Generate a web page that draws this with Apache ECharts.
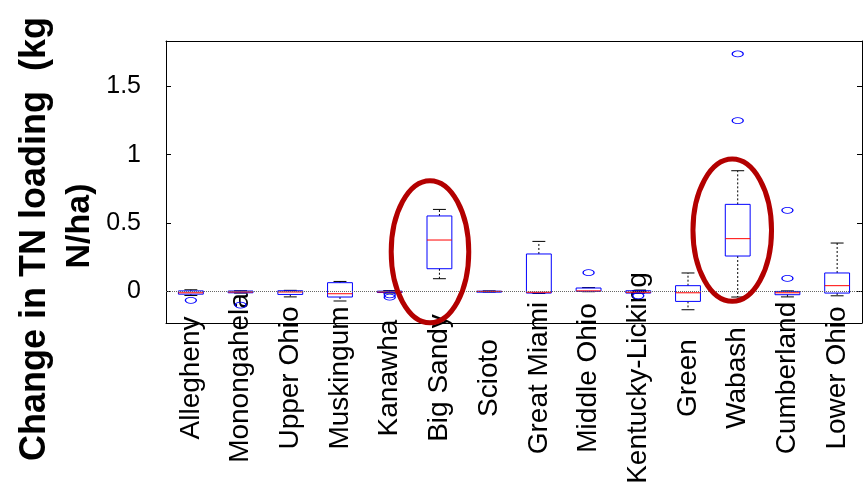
<!DOCTYPE html>
<html>
<head>
<meta charset="utf-8">
<script src="https://cdn.jsdelivr.net/npm/echarts@6/dist/echarts.min.js"></script>
<style>
  html, body { margin: 0; padding: 0; background: #fff; }
  #chart { width: 865px; height: 492px; }
</style>
</head>
<body>
<div id="chart"></div>
<script>
// basins along the x axis
const categories = ['Allegheny', 'Monongahela', 'Upper Ohio', 'Muskingum', 'Kanawha', 'Big Sandy',
  'Scioto', 'Great Miami', 'Middle Ohio', 'Kentucky-Licking', 'Green', 'Wabash', 'Cumberland', 'Lower Ohio'];

// box stats (kg N/ha)
const minVals = [-0.03, -0.012, -0.04, -0.07, -0.012, 0.093, -0.004, -0.015, -0.002, -0.014, -0.134, -0.041, -0.04, -0.032];
const q1Vals = [-0.02, -0.01, -0.022, -0.041, -0.008, 0.166, -0.002, -0.012, 0.0, -0.012, -0.073, 0.259, -0.024, -0.012];
const medVals = [-0.01, -0.004, -0.004, -0.017, -0.004, 0.376, 0.0, -0.006, 0.004, -0.006, -0.01, 0.386, -0.01, 0.042];
const q3Vals = [0.004, 0.003, 0.005, 0.064, 0.002, 0.552, 0.002, 0.274, 0.025, 0.005, 0.042, 0.637, 0.0, 0.135];
const maxVals = [0.012, 0.005, 0.008, 0.073, 0.006, 0.60, 0.004, 0.366, 0.028, 0.006, 0.135, 0.883, 0.004, 0.354];

// outliers: category index + value
const outlierCat = [0, 1, 4, 4, 8, 9, 11, 11, 12, 12];
const outlierVal = [-0.065, -0.1, -0.025, -0.042, 0.137, -0.032, 1.249, 1.737, 0.095, 0.593];

// red highlight rings: category, centre value, x shift (bands), half width (bands), half height (value)
const ringCat = [5, 11];
const ringMid = [0.29, 0.448];
const ringShift = [-0.19, -0.11];
const ringHalfW = [0.78, 0.79];
const ringHalfH = [0.52, 0.52];

const yTicks = [0, 0.5, 1, 1.5];
const yMin = -0.231;
const yMax = 1.832;

const FONT = '"Liberation Sans", Arial, sans-serif';

const boxData = categories.map((c, i) => [i, minVals[i], q1Vals[i], medVals[i], q3Vals[i], maxVals[i]]);
const outlierData = outlierCat.map((c, i) => [c, outlierVal[i]]);
const ringData = ringCat.map((c, i) => [c, ringMid[i], ringShift[i], ringHalfW[i], ringHalfH[i]]);

function renderBox(params, api) {
  const i = api.value(0);
  const bw = api.size([1, 0])[0];
  const pMin = api.coord([i, api.value(1)]);
  const pQ1 = api.coord([i, api.value(2)]);
  const pMed = api.coord([i, api.value(3)]);
  const pQ3 = api.coord([i, api.value(4)]);
  const pMax = api.coord([i, api.value(5)]);
  const x = pMin[0];
  const hw = bw * 0.25;
  const cw = bw * 0.13;
  const dash = { stroke: '#000', lineWidth: 1, lineDash: [2, 2] };
  const solid = { stroke: '#000', lineWidth: 1 };
  return {
    type: 'group',
    children: [
      { type: 'line', shape: { x1: x, y1: pQ3[1], x2: x, y2: pMax[1] }, style: dash },
      { type: 'line', shape: { x1: x, y1: pQ1[1], x2: x, y2: pMin[1] }, style: dash },
      { type: 'line', shape: { x1: x - cw, y1: pMax[1], x2: x + cw, y2: pMax[1] }, style: solid },
      { type: 'line', shape: { x1: x - cw, y1: pMin[1], x2: x + cw, y2: pMin[1] }, style: solid },
      { type: 'rect', shape: { x: x - hw, y: pQ3[1], width: hw * 2, height: Math.max(pQ1[1] - pQ3[1], 1) },
        style: { fill: 'none', stroke: '#0000ff', lineWidth: 1 } },
      { type: 'line', shape: { x1: x - hw, y1: pMed[1], x2: x + hw, y2: pMed[1] },
        style: { stroke: '#ff0000', lineWidth: 1 } }
    ]
  };
}

function renderRing(params, api) {
  const c = api.coord([api.value(0), api.value(1)]);
  const bw = api.size([1, 0])[0];
  const h = api.size([0, api.value(4)])[1];
  return {
    type: 'ellipse',
    shape: { cx: c[0] + api.value(2) * bw, cy: c[1], rx: api.value(3) * bw, ry: h },
    style: { fill: 'none', stroke: '#b30000', lineWidth: 5 }
  };
}

const chart = echarts.init(document.getElementById('chart'));

const option = {
  animation: false,
  grid: { left: 166, right: 3, top: 41, bottom: 169 },
  xAxis: [{
    type: 'category',
    data: categories,
    boundaryGap: true,
    axisLine: { onZero: false, lineStyle: { color: '#000', width: 1 } },
    axisTick: { inside: true, alignWithLabel: true, length: 5, lineStyle: { color: '#000' } },
    axisLabel: {
      interval: 0, rotate: 90, align: 'center', verticalAlign: 'middle', margin: 55,
      fontSize: 28, color: '#000', fontFamily: FONT, padding: [10, 0, 0, 0]
    },
    splitLine: { show: false }
  }, {
    type: 'category',
    data: categories,
    position: 'top',
    boundaryGap: true,
    axisLine: { onZero: false, lineStyle: { color: '#000', width: 1 } },
    axisTick: { inside: true, alignWithLabel: true, length: 5, lineStyle: { color: '#000' } },
    axisLabel: { show: false },
    splitLine: { show: false }
  }],
  yAxis: [{
    type: 'value',
    min: yMin,
    max: yMax,
    axisLine: { show: true, onZero: false, lineStyle: { color: '#000', width: 1 } },
    axisTick: { show: true, inside: true, length: 5, customValues: yTicks, lineStyle: { color: '#000' } },
    axisLabel: {
      customValues: yTicks, margin: 25, fontSize: 25, color: '#000', fontFamily: FONT,
      padding: [14, 0, 0, 0]
    },
    splitLine: { show: false }
  }, {
    type: 'value',
    position: 'right',
    min: yMin,
    max: yMax,
    axisLine: { show: true, onZero: false, lineStyle: { color: '#000', width: 1 } },
    axisTick: { show: true, inside: true, length: 5, customValues: yTicks, lineStyle: { color: '#000' } },
    axisLabel: { show: false },
    splitLine: { show: false }
  }],
  graphic: [{
    type: 'text',
    x: 35, y: 239, rotation: Math.PI / 2,
    style: { text: 'Change in TN loading  (kg', fill: '#000', font: 'bold 36px ' + FONT, align: 'center', verticalAlign: 'middle' }
  }, {
    type: 'text',
    x: 80, y: 226, rotation: Math.PI / 2,
    style: { text: 'N/ha)', fill: '#000', font: 'bold 34px ' + FONT, align: 'center', verticalAlign: 'middle' }
  }],
  series: [{
    type: 'custom',
    name: 'boxes',
    renderItem: renderBox,
    data: boxData,
    encode: { x: 0, y: [1, 2, 3, 4, 5] },
    z: 3,
    markLine: {
      silent: true,
      symbol: ['none', 'none'],
      label: { show: false },
      lineStyle: { color: '#666', type: 'dotted', width: 1 },
      data: [{ yAxis: 0 }]
    }
  }, {
    type: 'scatter',
    name: 'outliers',
    data: outlierData,
    symbol: 'circle',
    symbolSize: [11, 6],
    itemStyle: { color: 'rgba(0,0,0,0)', borderColor: '#0000ff', borderWidth: 1, opacity: 1 },
    z: 4
  }, {
    type: 'custom',
    name: 'rings',
    renderItem: renderRing,
    data: ringData,
    encode: { x: 0, y: 1 },
    z: 5
  }]
};

chart.setOption(option);
</script>
</body>
</html>
